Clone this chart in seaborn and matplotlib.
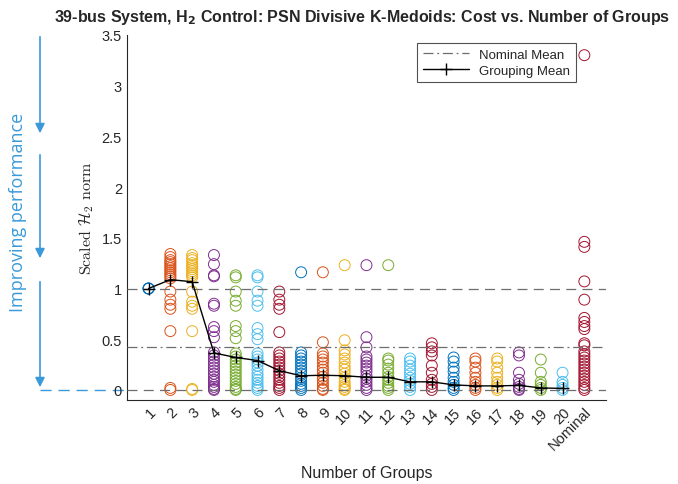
import numpy as np
import pandas as pd
import matplotlib
matplotlib.use('Agg')
import matplotlib.pyplot as plt
import seaborn as sns

sns.set_style('white')
plt.rcParams['font.family'] = ['Liberation Sans', 'DejaVu Sans']
plt.rcParams['xtick.direction'] = 'in'
plt.rcParams['ytick.direction'] = 'in'

# --- data ---
group_labels = [str(i) for i in range(1, 21)] + ['Nominal']

g1 = [1.0, 1.0, 1.0]
g2 = [1.34, 1.31, 1.28, 1.26, 1.24, 1.22, 1.20, 1.18, 1.16, 1.14, 1.12, 1.10, 0.97, 0.89, 0.84, 0.80, 0.58, 0.02, 0.0]
g3 = [1.33, 1.30, 1.28, 1.25, 1.23, 1.21, 1.19, 1.17, 1.15, 1.13, 1.11, 0.97, 0.87, 0.83, 0.80, 0.58, 0.01, 0.0]
g4 = [1.33, 1.24, 1.13, 1.12, 0.85, 0.83, 0.62, 0.58, 0.52, 0.37, 0.34, 0.31, 0.28, 0.25, 0.22, 0.19, 0.16, 0.13, 0.10, 0.08, 0.05, 0.03, 0.01, 0.0]
g5 = [1.13, 1.11, 0.97, 0.88, 0.83, 0.63, 0.58, 0.51, 0.36, 0.33, 0.30, 0.27, 0.24, 0.21, 0.18, 0.15, 0.12, 0.09, 0.06, 0.03, 0.01, 0.0]
g6 = [1.13, 1.11, 0.97, 0.88, 0.83, 0.61, 0.55, 0.50, 0.36, 0.33, 0.30, 0.27, 0.24, 0.20, 0.16, 0.13, 0.10, 0.07, 0.04, 0.02, 0.0]
g7 = [0.97, 0.89, 0.84, 0.80, 0.57, 0.37, 0.34, 0.31, 0.28, 0.25, 0.22, 0.19, 0.16, 0.13, 0.10, 0.07, 0.04, 0.02, 0.0]
g8 = [1.16, 0.37, 0.34, 0.31, 0.28, 0.25, 0.22, 0.19, 0.16, 0.12, 0.09, 0.06, 0.04, 0.02, 0.0]
g9 = [1.16, 0.47, 0.36, 0.33, 0.30, 0.27, 0.23, 0.20, 0.17, 0.13, 0.10, 0.07, 0.04, 0.01, 0.0]
g10 = [1.23, 0.49, 0.39, 0.35, 0.31, 0.27, 0.23, 0.20, 0.16, 0.12, 0.08, 0.05, 0.03, 0.01, 0.0]
g11 = [1.23, 0.52, 0.42, 0.33, 0.30, 0.27, 0.24, 0.21, 0.18, 0.14, 0.11, 0.08, 0.05, 0.02, 0.0]
g12 = [1.23, 0.31, 0.29, 0.25, 0.21, 0.17, 0.13, 0.10, 0.07, 0.04, 0.02, 0.0]
g13 = [0.31, 0.28, 0.24, 0.20, 0.16, 0.12, 0.09, 0.06, 0.03, 0.0]
g14 = [0.46, 0.42, 0.38, 0.34, 0.24, 0.17, 0.10, 0.06, 0.03, 0.0]
g15 = [0.32, 0.28, 0.22, 0.18, 0.12, 0.08, 0.05, 0.02, 0.0]
g16 = [0.31, 0.28, 0.22, 0.17, 0.12, 0.08, 0.05, 0.02, 0.0]
g17 = [0.31, 0.28, 0.22, 0.17, 0.12, 0.08, 0.05, 0.02, 0.0]
g18 = [0.37, 0.34, 0.17, 0.10, 0.06, 0.03, 0.01, 0.0]
g19 = [0.30, 0.17, 0.08, 0.05, 0.02, 0.0]
g20 = [0.17, 0.08, 0.05, 0.02, 0.0]
nominal = [3.30, 1.46, 1.41, 1.07, 0.89, 0.71, 0.67, 0.63, 0.60, 0.46, 0.44, 0.38, 0.35,
           0.32, 0.29, 0.26, 0.23, 0.20, 0.17, 0.14, 0.11, 0.08, 0.05, 0.02, 0.0]

grouping_mean = [1.0, 1.087, 1.067, 0.365, 0.32, 0.29, 0.19, 0.14, 0.145, 0.14,
                 0.125, 0.125, 0.08, 0.08, 0.05, 0.04, 0.04, 0.045, 0.02, 0.015]
nominal_mean = 0.424

# MATLAB default colour order
matlab_colors = ['#0072BD', '#D95319', '#EDB120', '#7E2F8E', '#77AC30', '#4DBEEE', '#A2142F']

groups = [g1, g2, g3, g4, g5, g6, g7, g8, g9, g10, g11, g12, g13, g14,
          g15, g16, g17, g18, g19, g20, nominal]
rows = []
for i, vals in enumerate(groups):
    for v in vals:
        rows.append({'x': i + 1, 'label': group_labels[i], 'cost': v})
df = pd.DataFrame(rows)
palette = {lab: matlab_colors[i % 7] for i, lab in enumerate(group_labels)}

fig = plt.figure(figsize=(6.78, 4.85), dpi=100)
ax = fig.add_axes([0.187, 0.173, 0.707, 0.753])

sns.scatterplot(data=df, x='x', y='cost', hue='label', palette=palette, marker='o',
                s=62, linewidth=0.7, legend=False, ax=ax, zorder=2)
for coll in ax.collections:
    fc = coll.get_facecolors()
    coll.set_edgecolors(fc)
    coll.set_facecolors('none')

ax.axhline(1.0, color='#6e6e6e', ls=(0, (8, 5)), lw=0.9, zorder=3)
ax.axhline(0.0, color='#6e6e6e', ls=(0, (8, 5)), lw=0.9, zorder=3)
ax.axhline(nominal_mean, color='#6e6e6e', ls=(0, (8, 3, 1.5, 3)), lw=0.9, zorder=3,
           label='Nominal Mean')
sns.lineplot(x=list(range(1, 21)), y=grouping_mean, color='black', lw=1.0, marker='+',
             markersize=8, markeredgewidth=1.0, markeredgecolor='black',
             label='Grouping Mean', ax=ax, zorder=4)

ax.set_xlim(0, 22)
ax.set_ylim(-0.1, 3.5)
ax.set_yticks(np.arange(0, 3.51, 0.5))
ax.set_yticklabels(['0', '0.5', '1', '1.5', '2', '2.5', '3', '3.5'])
ax.set_xticks(range(1, 22))
ax.set_xticklabels(group_labels, rotation=45, ha='right', va='top', rotation_mode='anchor')
ax.tick_params(axis='both', labelsize=10.5, colors='#262626', length=5, width=0.6)
ax.tick_params(axis='x', pad=3)

for side in ['top', 'right']:
    ax.spines[side].set_visible(False)
for side in ['left', 'bottom']:
    ax.spines[side].set_color('#262626')
    ax.spines[side].set_linewidth(0.8)

ax.set_xlabel('Number of Groups', fontsize=11.5, color='#262626', labelpad=9)
ax.set_ylabel(r'Scaled $\mathcal{H}_2$ norm', fontsize=11.5, fontfamily='cmr10',
              math_fontfamily='cm', color='#262626', labelpad=4)
ax.set_title(r'39-bus System, H$_{\mathbf{2}}$ Control: PSN Divisive K-Medoids: Cost vs. Number of Groups',
             fontsize=11.5, fontweight='bold', pad=10, x=0.49)

leg = ax.legend(loc='upper right', bbox_to_anchor=(0.95, 0.995), fontsize=9.5,
                frameon=True, fancybox=False, handlelength=3.5, borderpad=0.4,
                labelspacing=0.3)
leg.get_frame().set_edgecolor('#262626')
leg.get_frame().set_linewidth(0.8)

# "Improving performance" annotation on the left
blue = '#3A9AD9'
fig.text(18 / 678, 1 - 212 / 485, 'Improving performance', rotation=90, color=blue,
         fontsize=13, fontfamily='Open Sans', ha='center', va='center')
for y0, y1 in [(35, 137), (153, 262), (280, 391)]:
    fig.add_artist(matplotlib.patches.FancyArrowPatch(
        (40 / 678, 1 - y0 / 485), (40 / 678, 1 - y1 / 485), transform=fig.transFigure,
        arrowstyle='-|>', mutation_scale=14, color=blue, lw=1.2))
fig.add_artist(matplotlib.lines.Line2D([40 / 678, 130 / 678], [1 - 391 / 485, 1 - 391 / 485],
                                       transform=fig.transFigure, color=blue, lw=1.0,
                                       ls=(0, (8, 5)), zorder=0))

fig.savefig('out.png', dpi=100)
